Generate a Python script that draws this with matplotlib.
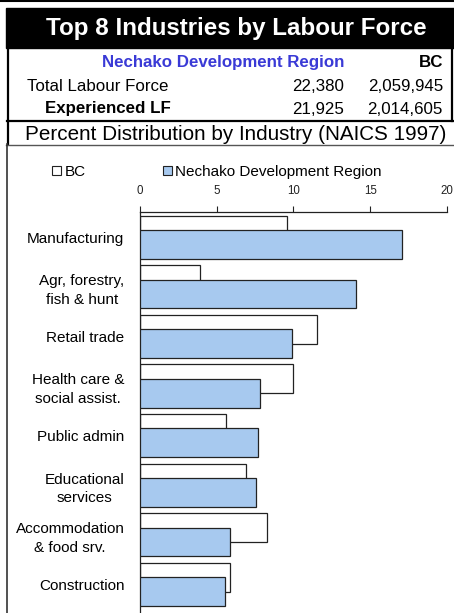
import matplotlib
matplotlib.use("Agg")
import matplotlib.pyplot as plt
from matplotlib.patches import Rectangle, Patch
from matplotlib.lines import Line2D

plt.rcParams["font.family"] = ["Liberation Sans", "DejaVu Sans"]

# --- data ---
industries = ["Manufacturing", "Agr, forestry,\nfish & hunt", "Retail trade",
              "Health care &\nsocial assist.", "Public admin", "Educational\nservices",
              "Accommodation\n& food srv.", "Construction"]
bc_pct = [9.6, 3.9, 11.55, 9.95, 5.6, 6.9, 8.3, 5.9]
nechako_pct = [17.1, 14.1, 9.9, 7.85, 7.7, 7.6, 5.9, 5.55]

region = "Nechako Development Region"
header_rows = ["Total Labour Force", "Experienced LF"]
region_vals = ["22,380", "21,925"]
bc_vals = ["2,059,945", "2,014,605"]
xticks = [0, 5, 10, 15, 20]

W, H = 454, 613
fig = plt.figure(figsize=(W / 100, H / 100), dpi=100)


def fx(px):
    return px / W


def fy(py):
    return 1 - py / H


def hline(y, x0, x1, lw, color="black"):
    fig.add_artist(Line2D([fx(x0), fx(x1)], [fy(y), fy(y)], lw=lw, color=color,
                          transform=fig.transFigure))


def vline(x, y0, y1, lw, color="black"):
    fig.add_artist(Line2D([fx(x), fx(x)], [fy(y0), fy(y1)], lw=lw, color=color,
                          transform=fig.transFigure))


# header blocks
hline(1, 0, W, 1.5)
fig.add_artist(Rectangle((fx(6), fy(47.5)), fx(W - 6), 39.5 / H, color="black",
                         transform=fig.transFigure))
fig.text(fx(236.5), fy(35), "Top 8 Industries by Labour Force", color="white",
         fontsize=17.4, fontweight="bold", ha="center", va="baseline")
vline(8, 47, 144, 1.6)
vline(452, 47, 121, 1.6)
hline(120.5, 7, W, 1.6)
hline(144.5, 6, W, 1.0, "#555555")
vline(7, 144, H, 1.2, "#333333")

fig.text(fx(344), fy(67), region, color="#3a3ad6", fontsize=12.2,
         fontweight="bold", ha="right", va="baseline")
fig.text(fx(443), fy(67), "BC", fontsize=12.2, fontweight="bold",
         ha="right", va="baseline")
for i, (lab, rv, bv) in enumerate(zip(header_rows, region_vals, bc_vals)):
    y = 91 + i * 22.5
    if i == 0:
        fig.text(fx(27), fy(y), lab, fontsize=12.2, ha="left", va="baseline")
    else:
        fig.text(fx(45), fy(y), lab, fontsize=12.2, fontweight="bold",
                 ha="left", va="baseline")
    fig.text(fx(344), fy(y), rv, fontsize=12.2, ha="right", va="baseline")
    fig.text(fx(443), fy(y), bv, fontsize=12.2, ha="right", va="baseline")

fig.text(fx(236), fy(140.5), "Percent Distribution by Industry (NAICS 1997)",
         fontsize=14.9, ha="center", va="baseline")

# --- chart ---
ax_left, ax_right, ax_top = 139.7, 447, 212.4
ax = fig.add_axes([fx(ax_left), 0, fx(ax_right - ax_left), (H - ax_top) / H])

pos = list(range(len(industries)))
bar_h = 0.58
off = 0.145
ax.barh([p - off for p in pos], bc_pct, height=bar_h, color="white",
        edgecolor="#222222", linewidth=0.9, zorder=2)
ax.barh([p + off for p in pos], nechako_pct, height=bar_h, color="#a7c9ef",
        edgecolor="#222222", linewidth=0.9, zorder=3)

ax.set_xlim(0, 20)
ax.set_ylim(7.577, -0.5)
ax.set_xticks(xticks)
ax.xaxis.tick_top()
ax.tick_params(axis="x", direction="out", length=4, width=0.8, pad=7,
               labelsize=8.3, colors="#222222")
ax.set_yticks(pos)
ax.set_yticklabels(industries, fontsize=11, ha="right", multialignment="center",
                   linespacing=1.4)
ax.tick_params(axis="y", length=0, pad=11)
for side in ("right", "bottom"):
    ax.spines[side].set_visible(False)
for side in ("top", "left"):
    ax.spines[side].set_linewidth(0.9)
    ax.spines[side].set_color("#222222")
ax.set_facecolor("none")

handles = [Patch(facecolor="white", edgecolor="#222222", linewidth=0.8),
           Patch(facecolor="#a7c9ef", edgecolor="#222222", linewidth=0.8)]
fig.legend(handles, ["BC", region], loc="lower left",
           bbox_to_anchor=(fx(52), fy(179)), ncol=2, frameon=False,
           fontsize=11, handlelength=0.6, handleheight=0.6,
           handletextpad=0.25, columnspacing=5.0, borderpad=0,
           borderaxespad=0)

fig.savefig("out.png", dpi=100)
